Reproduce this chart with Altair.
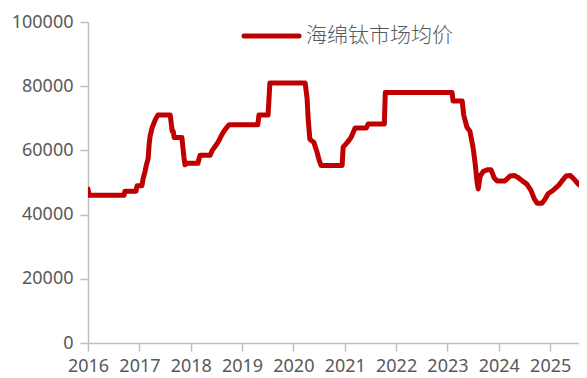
import altair as alt
import pandas as pd

dates = [
    "2016-01-01", "2016-01-08", "2016-09-13", "2016-09-20", "2016-12-08", "2016-12-15",
    "2017-01-19", "2017-01-26", "2017-02-10", "2017-02-17", "2017-03-04", "2017-03-11",
    "2017-03-18", "2017-04-01", "2017-04-23", "2017-05-12", "2017-08-08", "2017-08-22",
    "2017-08-29", "2017-09-05", "2017-10-30", "2017-11-13", "2017-11-21", "2017-12-05",
    "2018-02-21", "2018-03-08", "2018-05-19", "2018-06-03", "2018-06-28", "2018-07-20",
    "2018-08-11", "2018-09-02", "2018-10-01", "2019-04-23", "2019-05-01", "2019-07-05",
    "2019-07-18", "2020-03-25", "2020-04-08", "2020-04-15", "2020-04-27", "2020-05-26",
    "2020-06-17", "2020-07-02", "2020-07-16", "2020-12-13", "2020-12-20", "2021-01-19",
    "2021-02-14", "2021-03-15", "2021-06-04", "2021-06-15", "2021-10-09", "2021-10-16",
    "2023-02-03", "2023-02-10", "2023-04-16", "2023-04-27", "2023-05-19", "2023-06-10",
    "2023-07-02", "2023-07-17", "2023-07-31", "2023-08-08", "2023-08-22", "2023-09-13",
    "2023-10-16", "2023-11-07", "2023-11-29", "2023-12-21", "2024-02-14", "2024-03-22",
    "2024-04-20", "2024-05-19", "2024-06-17", "2024-07-19", "2024-08-18", "2024-09-09",
    "2024-10-01", "2024-11-03", "2024-11-25", "2024-12-17", "2025-01-23", "2025-02-28",
    "2025-03-26", "2025-04-24", "2025-05-23", "2025-06-21", "2025-07-20", "2025-08-22",
    "2025-10-12",
]
prices = [
    48000, 46000, 46000, 47300, 47300, 49000,
    49000, 51000, 53500, 55000, 57500, 62000,
    64500, 67000, 69500, 71000, 71000, 66000,
    66000, 64000, 64000, 58000, 55500, 56000,
    56000, 58500, 58500, 60000, 61500, 63000,
    65000, 66500, 68000, 68000, 71000, 71000,
    81000, 81000, 76000, 70000, 63500, 62500,
    59500, 57000, 55300, 55300, 61000, 62500,
    64000, 67000, 67000, 68200, 68200, 78000,
    78000, 75400, 75400, 71000, 67300, 66000,
    61000, 56000, 50000, 48000, 52000, 53500,
    54000, 54000, 51500, 50500, 50500, 52000,
    52200, 51500, 50500, 49500, 47500, 45000,
    43500, 43500, 44800, 46500, 47600, 49000,
    50500, 52000, 52200, 51000, 49500, 48500,
    48000,
]
y_ticks = [0, 20000, 40000, 60000, 80000, 100000]
series_name = "海绵钛市场均价"
line_color = "#c00000"

df = pd.DataFrame({"date": dates, "price": prices})

axis_color = "#bfbfbf"
label_color = "#595959"

line = alt.Chart(df).mark_line(
    color=line_color, strokeWidth=5, strokeJoin="round", strokeCap="round", clip=True
).encode(
    x=alt.X(
        "date:T",
        scale=alt.Scale(domain=["2016-01-01", "2025-07-25"]),
        axis=alt.Axis(
            title=None, format="%Y", tickCount={"interval": "year", "step": 1},
            grid=False, domainColor=axis_color, tickColor=axis_color, tickSize=8,
            labelPadding=6, labelFontSize=18, labelColor=label_color,
            labelFont="Noto Sans", labelFlush=False, labelOverlap=False,
            domainWidth=1.5, tickWidth=1.5,
        ),
    ),
    y=alt.Y(
        "price:Q",
        scale=alt.Scale(domain=[0, 100000], nice=False),
        axis=alt.Axis(
            title=None, values=y_ticks, format="d", grid=False,
            domainColor=axis_color, tickColor=axis_color, tickSize=8,
            labelPadding=7, labelFontSize=18, labelColor=label_color,
            labelFont="Noto Sans", domainWidth=1.5, tickWidth=1.5,
        ),
    ),
)

legend_data = alt.Data(values=[{"label": series_name}])
legend_line = alt.Chart(legend_data).mark_rule(
    color=line_color, strokeWidth=5, strokeCap="round"
).encode(x=alt.value(156), x2=alt.value(211), y=alt.value(14))
legend_text = alt.Chart(legend_data).mark_text(
    align="left", baseline="middle", fontSize=21, color=label_color,
    font="Noto Sans CJK SC", fontWeight=300,
).encode(x=alt.value(218), y=alt.value(14), text="label:N")

chart = alt.layer(line, legend_line, legend_text).properties(
    width=491, height=321,
    autosize=alt.AutoSizeParams(type="none"),
    padding={"left": 80, "top": 14, "right": 0, "bottom": 35},
).configure_view(stroke=None)

chart.save("out.html", embed_options={"renderer": "svg", "actions": False})
